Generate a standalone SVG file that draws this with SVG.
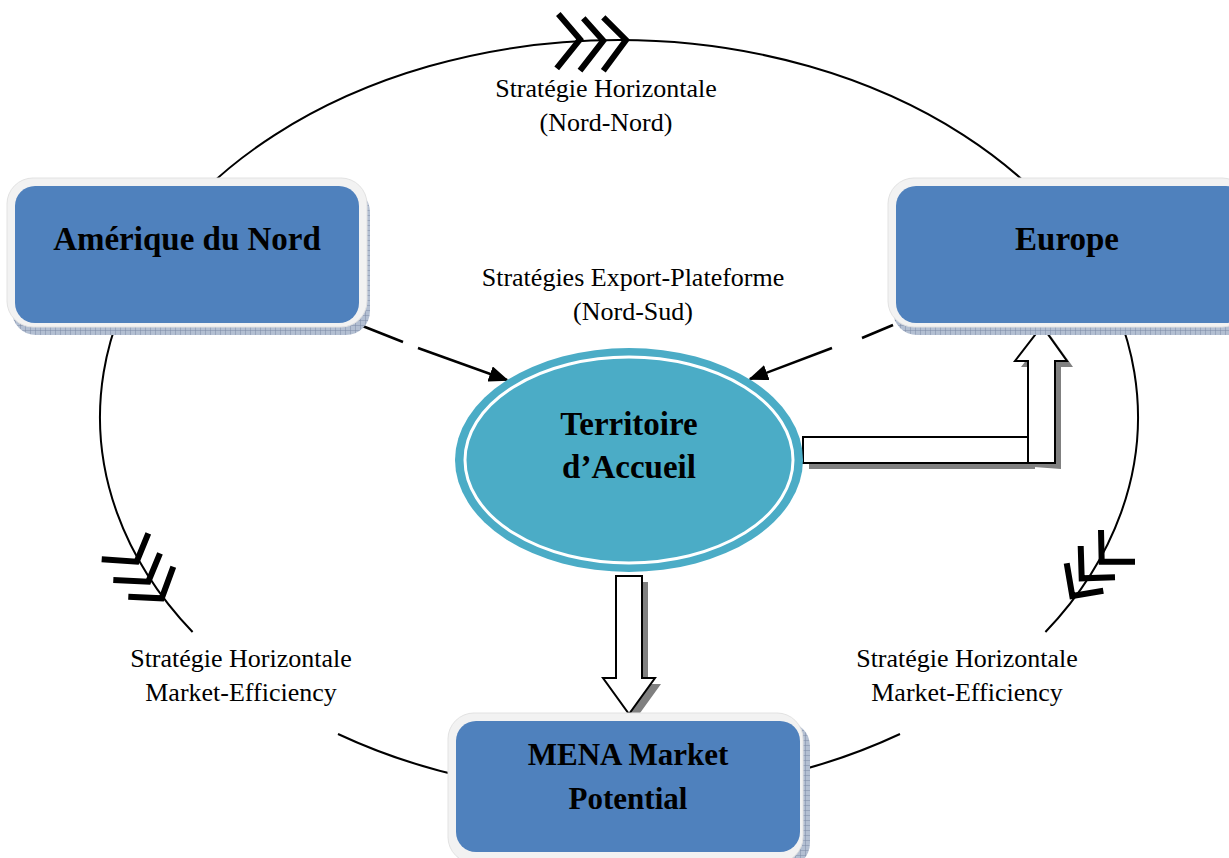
<svg xmlns="http://www.w3.org/2000/svg" width="1229" height="858" viewBox="0 0 1229 858">
<style>
.lbl{font-family:"Liberation Serif","Times New Roman",serif;font-size:26px;fill:#000;text-anchor:middle}
.nt{font-family:"Liberation Serif","Times New Roman",serif;font-size:33px;font-weight:bold;fill:#000;text-anchor:middle}
.outer{fill:#f2f2f2;stroke:#e2e2e2;stroke-width:1}
.inner{fill:#4f81bd}
.shadow{fill:url(#hatch)}
.curve{fill:none;stroke:#000;stroke-width:2}
.chev{fill:none;stroke:#000;stroke-width:6;stroke-linejoin:miter}
.dash{fill:none;stroke:#000;stroke-width:2.5}
.block{fill:#fff;stroke:#000;stroke-width:2}
.bshadow{fill:#808080}
</style>
<defs>
<pattern id="hatch" width="5" height="5" patternUnits="userSpaceOnUse">
<rect width="5" height="5" fill="#b3bfd2"/>
<path d="M0 0H5M0 0V5" stroke="#7d8ca6" stroke-width="1"/>
</pattern>
<marker id="ah" markerWidth="20" markerHeight="16" refX="18" refY="8" orient="auto" markerUnits="userSpaceOnUse">
<path d="M0 0L20 8L0 16Z" fill="#000"/>
</marker>
</defs>

<g id="connectors">
<path class="curve" d="M192.6 632 A519 377 0 1 1 1045.4 632"/>
<path class="curve" d="M338 734 A519 377 0 0 0 900 734"/>
<polyline class="chev" points="558.3,14 580,39.3 556.7,68.3"/>
<polyline class="chev" points="583.3,18.3 603.3,40.7 580,70.7"/>
<polyline class="chev" points="603.3,17.3 626,40 603.3,70.7"/>
<polyline class="chev" points="148.3,533.3 136.7,561.7 101.7,559.3"/>
<polyline class="chev" points="160,553.3 148.3,581.7 113.3,580"/>
<polyline class="chev" points="173.3,566.7 161.7,598.3 128.3,596.7"/>
<polyline class="chev" points="1101,530 1101.7,561.7 1135,561.7"/>
<polyline class="chev" points="1080.7,546 1081.7,578.3 1115,577.3"/>
<polyline class="chev" points="1066.7,563.3 1072.3,596 1103.3,590.7"/>
<line class="dash" x1="360" y1="325" x2="403" y2="342"/>
<line class="dash" x1="418" y1="348" x2="507" y2="380" marker-end="url(#ah)"/>
<line class="dash" x1="893" y1="325" x2="862" y2="338"/>
<line class="dash" x1="832" y1="348" x2="750" y2="379" marker-end="url(#ah)"/>
<rect class="bshadow" x="809" y="443" width="226" height="26"/>
<polygon class="bshadow" points="1034,467 1034,367 1021,367 1048,332 1073,367 1061,367 1061,469"/>
<rect class="block" x="803" y="437" width="227" height="26"/>
<polygon class="block" points="1028,463 1028,361 1015,361 1042,326 1067,361 1055,361 1055,463"/>
<polygon class="bshadow" points="622,582 648,582 648,684 661,684 635,720 609,684 622,684"/>
<polygon class="block" points="616,576 642,576 642,678 655,678 629,714 603,678 616,678"/>
</g>

<g id="label-top">
<text class="lbl" x="606" y="97">Stratégie Horizontale</text>
<text class="lbl" x="606" y="131">(Nord-Nord)</text>
</g>
<g id="label-export">
<text class="lbl" x="633" y="286">Stratégies Export-Plateforme</text>
<text class="lbl" x="633" y="320">(Nord-Sud)</text>
</g>
<g id="label-left">
<text class="lbl" x="241" y="667">Stratégie Horizontale</text>
<text class="lbl" x="241" y="701">Market-Efficiency</text>
</g>
<g id="label-right">
<text class="lbl" x="967" y="667">Stratégie Horizontale</text>
<text class="lbl" x="967" y="701">Market-Efficiency</text>
</g>

<g id="node-amerique">
<rect class="shadow" x="12" y="188" width="358" height="147" rx="24"/>
<rect class="outer" x="7" y="178" width="360" height="149" rx="26"/>
<rect class="inner" x="15" y="186" width="344" height="137" rx="20"/>
<text class="nt" x="187" y="250">Amérique du Nord</text>
</g>

<g id="node-europe">
<rect class="shadow" x="893" y="188" width="360" height="147" rx="24"/>
<rect class="outer" x="888" y="178" width="360" height="149" rx="26"/>
<rect class="inner" x="896" y="186" width="350" height="137" rx="20"/>
<text class="nt" x="1067" y="250">Europe</text>
</g>

<g id="node-mena">
<rect class="shadow" x="453" y="722" width="357" height="145" rx="24"/>
<rect class="outer" x="448" y="713" width="355" height="150" rx="26"/>
<rect class="inner" x="456" y="721" width="344" height="131" rx="20"/>
<text class="nt" x="628" y="765" style="font-size:31px">MENA Market</text>
<text class="nt" x="628" y="809" style="font-size:31px">Potential</text>
</g>

<g id="node-territoire">
<ellipse cx="629" cy="460" rx="174" ry="112" fill="#4bacc6"/>
<ellipse cx="629" cy="460" rx="164" ry="103" fill="none" stroke="#fff" stroke-width="3"/>
<text class="nt" x="629" y="435">Territoire</text>
<text class="nt" x="629" y="478">d’Accueil</text>
</g>
</svg>
